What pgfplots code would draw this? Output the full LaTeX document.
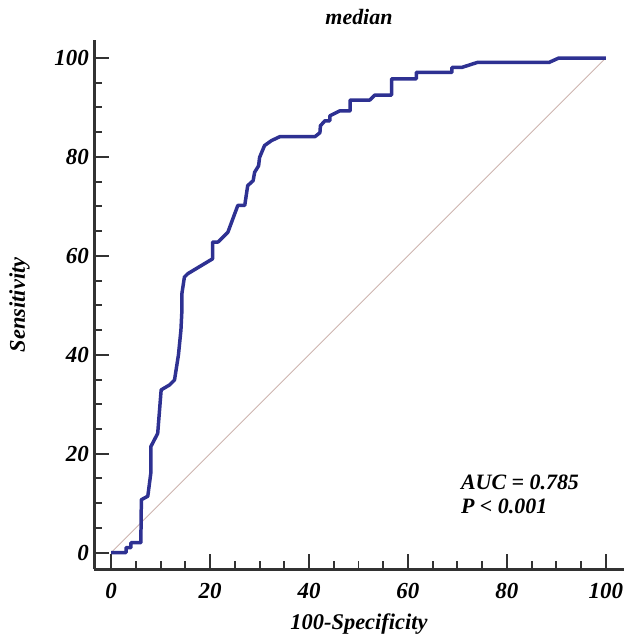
\documentclass[border=0pt]{standalone}
\usepackage{fontspec}
\setmainfont{Liberation Serif}
\usepackage{pgfplots}
\pgfplotsset{compat=1.18}

\definecolor{roc}{RGB}{46,49,146}
\definecolor{diag}{RGB}{205,180,175}
\definecolor{axisgray}{RGB}{50,50,50}

\begin{document}
\begin{tikzpicture}
\begin{axis}[
    scale only axis,
    width=531pt, height=531pt,
    xmin=-3.4, xmax=103.6,
    ymin=-3.4, ymax=103.6,
    axis x line=bottom, axis y line=left,
    axis line style={-, line width=2.5pt, color=axisgray},
    xtick={0,20,40,60,80,100},
    ytick={0,20,40,60,80,100},
    minor tick num=3,
    tick align=inside,
    major tick length=15pt, minor tick length=8pt,
    every tick/.style={line width=2pt, color=axisgray},
    /pgf/number format/assume math mode=true,
    tick label style={font=\fontsize{23}{27}\selectfont\bfseries\itshape},
    xticklabel style={yshift=-10pt},
    yticklabel style={xshift=-2pt},
    label style={font=\fontsize{22.5}{27}\selectfont\bfseries\itshape},
    xlabel={100-Specificity},
    ylabel={Sensitivity},
    xlabel style={yshift=-11.5pt, inner ysep=0pt},
    ylabel style={yshift=18pt},
    title={median},
    title style={font=\fontsize{22}{26}\selectfont\bfseries\itshape, yshift=6pt},
    clip=false,
]
\addplot[color=diag, line width=0.9pt] coordinates {(0,0)(100,100)};

\addplot[color=roc, line width=3.5pt, line join=round] coordinates {
(0,0)(3,0)(3,1)(4,1)(4,2)(6,2)(6,2.6)(6.1,10.7)(7.4,11.4)(8,16)(8,21.4)
(9.4,24.1)(10.1,32.9)(11.8,33.9)(12.8,34.9)(13.6,40)(14.1,45)(14.3,49)
(14.3,52.4)(14.8,55.7)(15.5,56.4)(17.5,57.6)(20.5,59.4)(20.5,62.8)(21.6,62.8)
(23.6,64.8)(25.6,70.2)(27,70.2)(27.6,74.2)(28.7,75.2)(29,76.9)(29.8,78.2)
(30,79.9)(31,82.3)(32.4,83.3)(34.1,84.1)(41.2,84.1)(42.2,84.9)(42.3,86.3)
(43.2,87.3)(44.2,87.3)(44.2,88.3)(46.2,89.3)(48.3,89.3)(48.3,91.5)(52.3,91.5)
(53.3,92.5)(56.7,92.5)(56.7,95.8)(61.7,95.8)(61.7,97.1)(68.9,97.1)(68.9,98.1)
(70.9,98.1)(74,99.1)(88.5,99.1)(90.5,100)(100,100)
};

\node[anchor=west, inner sep=0pt, font=\fontsize{22}{26}\selectfont\bfseries\itshape]
    at (axis cs:70.7,14.3) {AUC = 0.785};
\node[anchor=west, inner sep=0pt, font=\fontsize{22}{26}\selectfont\bfseries\itshape]
    at (axis cs:70.7,9.3) {P < 0.001};
\end{axis}
% a little white margin on the left and at the top, as in the reference
\path ([xshift=-6pt]current bounding box.west);
\path ([yshift=6pt]current bounding box.north);
\end{tikzpicture}
\end{document}
